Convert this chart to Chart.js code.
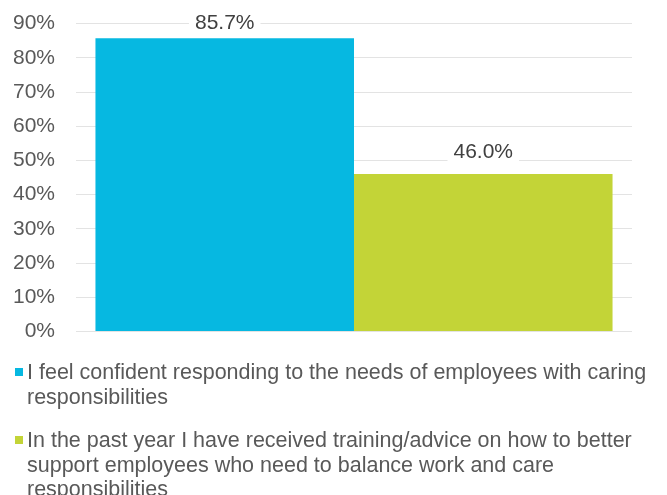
<!DOCTYPE html>
<html>
<head>
<meta charset="utf-8">
<script src="https://cdn.jsdelivr.net/npm/chart.js@4/dist/chart.umd.min.js"></script>
<style>
  html, body { margin: 0; padding: 0; background: #fff; }
  body { width: 667px; height: 495px; position: relative; overflow: hidden;
         font-family: "Liberation Sans", Arial, sans-serif; }
  #wrap { position: absolute; left: 0; top: -10px; width: 667px; height: 375px; }
  #legend { position: absolute; left: 15px; top: 360px; width: 650px; color: #595959;
            font-size: 21.5px; line-height: 24.5px; }
  .item { position: relative; padding-left: 12px; margin-bottom: 19px; }
  .box { position: absolute; left: 0; top: 8px; width: 8px; height: 8px; }
  .line { white-space: nowrap; }
</style>
</head>
<body>
<div id="wrap"><canvas id="chart"></canvas></div>
<div id="legend"></div>
<script>
// Survey statements (legend lines) and share of respondents agreeing
const seriesLines = [
  ["I feel confident responding to the needs of employees with caring",
   "responsibilities"],
  ["In the past year I have received training/advice on how to better",
   "support employees who need to balance work and care",
   "responsibilities"]
];
const seriesValues = [85.7, 46.0];
const seriesColors = ["#06B8E1", "#C3D437"];
const yTicks = [0, 10, 20, 30, 40, 50, 60, 70, 80, 90];

const datasets = seriesValues.map((v, i) => ({
  label: seriesLines[i].join(" "),
  data: [v],
  backgroundColor: seriesColors[i],
  borderWidth: 0,
  barPercentage: 1,
  categoryPercentage: 0.93
}));

// Value labels above each bar, on a white patch over the gridlines;
// kept inside the canvas when a bar reaches near the top
const valueLabels = {
  id: "valueLabels",
  afterDatasetsDraw(chart) {
    const ctx = chart.ctx;
    ctx.save();
    ctx.font = '21px "Liberation Sans", Arial, sans-serif';
    ctx.textAlign = "center";
    ctx.textBaseline = "alphabetic";
    chart.data.datasets.forEach((ds, i) => {
      chart.getDatasetMeta(i).data.forEach((bar, j) => {
        const txt = ds.data[j].toFixed(1) + "%";
        const w = ctx.measureText(txt).width;
        const base = Math.max(bar.y - 16, 39);
        ctx.fillStyle = "#ffffff";
        ctx.fillRect(bar.x - w / 2 - 6, base - 18, w + 12, 22);
        ctx.fillStyle = "#404040";
        ctx.fillText(txt, bar.x, base);
      });
    });
    ctx.restore();
  }
};

new Chart(document.getElementById("chart"), {
  type: "bar",
  data: { labels: [""], datasets },
  plugins: [valueLabels],
  options: {
    responsive: true,
    maintainAspectRatio: false,
    animation: false,
    layout: { padding: { top: 0, right: 35, bottom: 0, left: 0 } },
    plugins: { legend: { display: false }, tooltip: { enabled: false } },
    scales: {
      x: { display: false },
      y: {
        min: 0, max: 90,
        afterFit(scale) { scale.width = 76; },
        afterBuildTicks(scale) { scale.ticks = yTicks.map(v => ({ value: v })); },
        border: { display: false },
        grid: { color: "#E3E3E3", lineWidth: 1, drawTicks: false },
        ticks: {
          padding: 21,
          color: "#595959",
          font: { family: '"Liberation Sans", Arial, sans-serif', size: 21 },
          callback: v => v + "%"
        }
      }
    }
  }
});

// Legend built from the same series definitions
const legend = document.getElementById("legend");
seriesLines.forEach((lines, i) => {
  const item = document.createElement("div");
  item.className = "item";
  const box = document.createElement("span");
  box.className = "box";
  box.style.background = seriesColors[i];
  item.appendChild(box);
  lines.forEach(t => {
    const l = document.createElement("div");
    l.className = "line";
    l.textContent = t;
    item.appendChild(l);
  });
  legend.appendChild(item);
});
</script>
</body>
</html>
